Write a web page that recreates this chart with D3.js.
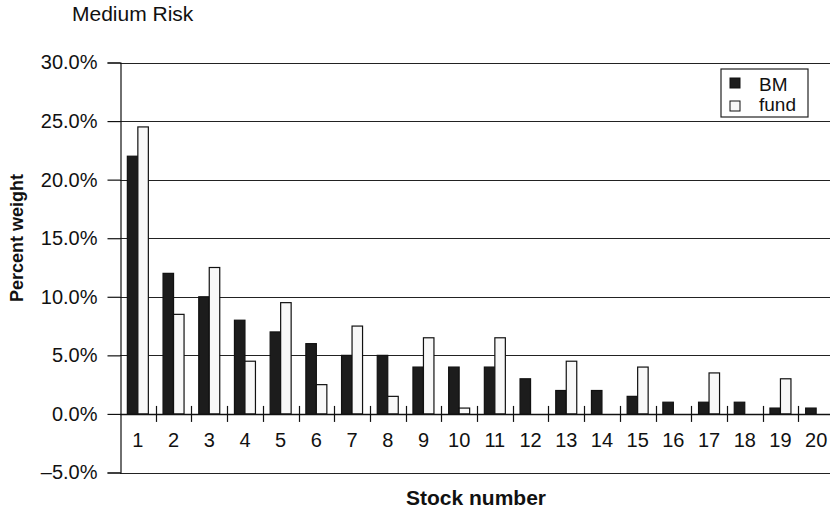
<!DOCTYPE html>
<html>
<head>
<meta charset="utf-8">
<script src="https://cdn.jsdelivr.net/npm/d3@7/dist/d3.min.js"></script>
<style>
  html, body { margin: 0; padding: 0; background: #fff; }
  svg { display: block; font-family: "Liberation Sans", Arial, sans-serif; }
</style>
</head>
<body>
<svg id="chart" width="830" height="513"></svg>
<script>
const categories = ["1","2","3","4","5","6","7","8","9","10","11","12","13","14","15","16","17","18","19","20"];
const bmValues   = [22, 12, 10, 8, 7, 6, 5, 5, 4, 4, 4, 3, 2, 2, 1.5, 1, 1, 1, 0.5, 0.5];
const fundValues = [24.5, 8.5, 12.5, 4.5, 9.5, 2.5, 7.5, 1.5, 6.5, 0.5, 6.5, 0, 4.5, 0, 4, 0, 3.5, 0, 3, 0];
const seriesNames = ["BM", "fund"];
const yTicks = [-5, 0, 5, 10, 15, 20, 25, 30];
const yTickLabels = ["–5.0%", "0.0%", "5.0%", "10.0%", "15.0%", "20.0%", "25.0%", "30.0%"];
const titleText = "Medium Risk";
const xTitle = "Stock number";
const yTitle = "Percent weight";

(function () {
const svg = d3.select("#chart");
const pLeft = 120, pRight = 834, pTop = 62.5, pBottom = 472.5;

const x = d3.scaleBand().domain(categories).range([pLeft, pRight]).paddingInner(0).paddingOuter(0);
const x1 = d3.scaleBand().domain(seriesNames).range([0, x.bandwidth()]).paddingInner(0).paddingOuter(0.7);
const y = d3.scaleLinear().domain([-5, 30]).range([pBottom, pTop]);

const fills = { BM: "#1c1c1c", fund: "#f8f8f8" };

// gridlines
svg.append("g").selectAll("line").data(yTicks).join("line")
  .attr("x1", pLeft).attr("x2", 830)
  .attr("y1", d => Math.round(y(d)) + 0.5).attr("y2", d => Math.round(y(d)) + 0.5)
  .attr("stroke", "#222").attr("stroke-width", 1.2);

// bars
const rows = categories.map((c, i) => ({ c, BM: bmValues[i], fund: fundValues[i] }));
const groups = svg.append("g").selectAll("g").data(rows).join("g")
  .attr("transform", d => `translate(${x(d.c)},0)`);
groups.selectAll("rect").data(d => seriesNames.map(k => ({ k, v: d[k] })).filter(e => e.v > 0)).join("rect")
  .attr("x", d => x1(d.k))
  .attr("width", x1.bandwidth())
  .attr("y", d => y(d.v))
  .attr("height", d => y(0) - y(d.v))
  .attr("fill", d => fills[d.k])
  .attr("stroke", "#111").attr("stroke-width", 1.2);

// zero line
svg.append("line").attr("x1", pLeft).attr("x2", 830)
  .attr("y1", Math.round(y(0)) + 0.5).attr("y2", Math.round(y(0)) + 0.5)
  .attr("stroke", "#111").attr("stroke-width", 1.3);

// x cross ticks at band boundaries
svg.append("g").selectAll("line").data(categories.slice(1)).join("line")
  .attr("x1", d => Math.round(x(d)) + 0.5).attr("x2", d => Math.round(x(d)) + 0.5)
  .attr("y1", y(0) - 8).attr("y2", y(0) + 8)
  .attr("stroke", "#111").attr("stroke-width", 1.2);

// x labels
svg.append("g").selectAll("text").data(categories).join("text")
  .attr("x", d => x(d) + x.bandwidth() / 2)
  .attr("y", y(0) + 33)
  .attr("text-anchor", "middle")
  .attr("font-size", 20).attr("fill", "#111")
  .text(d => d);

// y axis
const yAxis = d3.axisLeft(y).tickValues(yTicks).tickSize(13).tickPadding(10)
  .tickFormat((d, i) => yTickLabels[i]);
const ya = svg.append("g").attr("transform", `translate(${pLeft + 0.5},0)`).call(yAxis);
ya.select(".domain").attr("stroke", "#111").attr("stroke-width", 1.2);
ya.selectAll(".tick line").attr("stroke", "#111").attr("stroke-width", 1.2);
ya.selectAll(".tick text").attr("font-size", 20).attr("fill", "#111")
  .attr("font-family", "'Liberation Sans', Arial, sans-serif");

// titles
svg.append("text").attr("x", 72).attr("y", 21).attr("font-size", 21).attr("fill", "#111").text(titleText);
svg.append("text").attr("x", 476).attr("y", 505).attr("text-anchor", "middle")
  .attr("font-size", 21).attr("font-weight", "bold").attr("fill", "#111").text(xTitle);
svg.append("text").attr("transform", "translate(23,238) rotate(-90)")
  .attr("text-anchor", "middle").attr("font-size", 18).attr("font-weight", "bold").attr("fill", "#111").text(yTitle);

// legend
const lg = svg.append("g").attr("transform", "translate(721,69)");
lg.append("rect").attr("width", 87).attr("height", 48).attr("fill", "#fff").attr("stroke", "#222").attr("stroke-width", 1.2);
seriesNames.forEach((s, i) => {
  lg.append("rect").attr("x", 9).attr("y", 9 + i * 23).attr("width", 10).attr("height", 10)
    .attr("fill", fills[s]).attr("stroke", "#111").attr("stroke-width", 1);
  lg.append("text").attr("x", 38).attr("y", 22 + i * 20).attr("font-size", 19).attr("fill", "#111").text(s);
});
})();
</script>
</body>
</html>
